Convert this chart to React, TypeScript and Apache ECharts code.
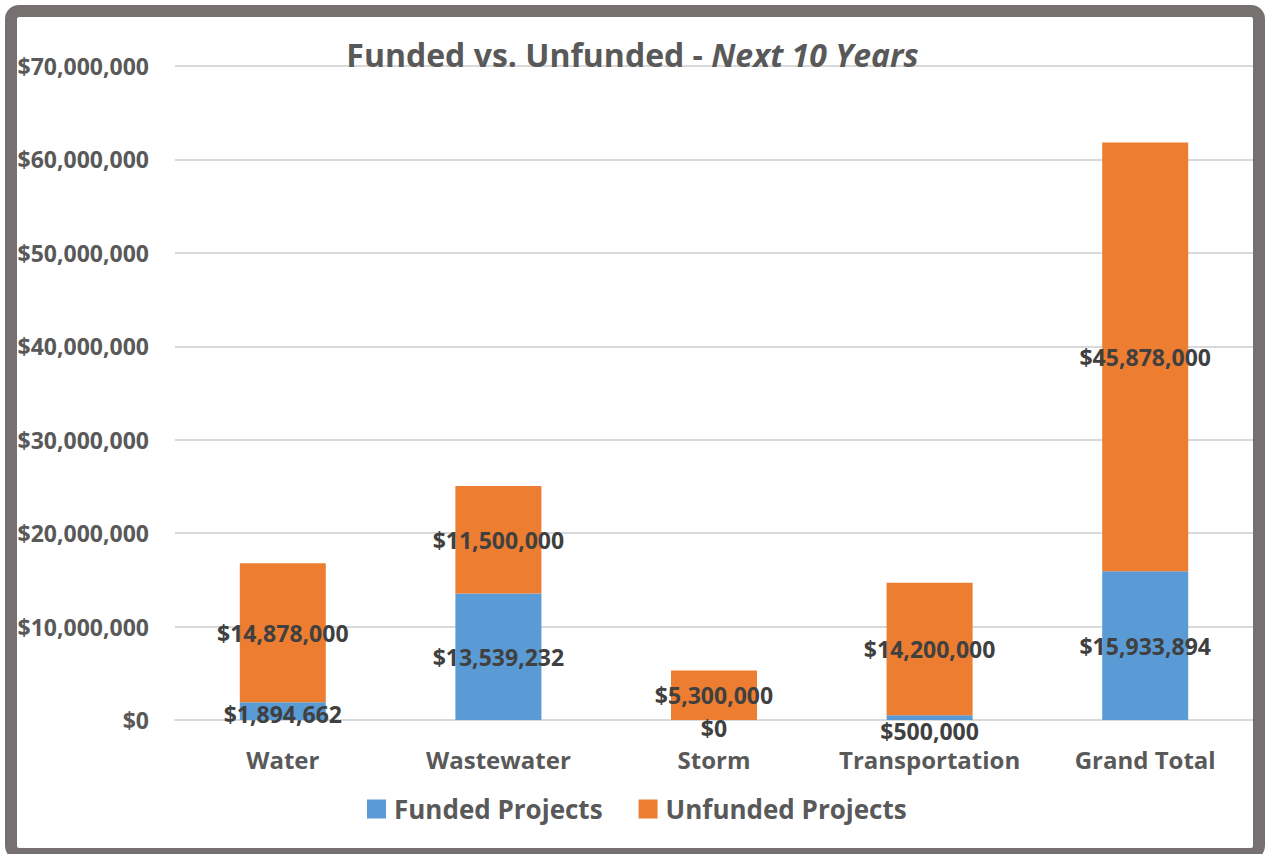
import React, { useEffect, useRef } from "react";
import * as echarts from "echarts";

const categories = ["Water", "Wastewater", "Storm", "Transportation", "Grand Total"];
const fundedValues = [1894662, 13539232, 0, 500000, 15933894];
const unfundedValues = [14878000, 11500000, 5300000, 14200000, 45878000];
const seriesNames = ["Funded Projects", "Unfunded Projects"];

const FONT = "'Open Sans', 'Noto Sans', sans-serif";
const fmt = (v: number) => "$" + Math.round(v).toLocaleString("en-US");

export default function App() {
  const ref = useRef<HTMLDivElement>(null);
  useEffect(() => {
    document.body.style.margin = "0";
    const chart = echarts.init(ref.current!, null, { renderer: "svg" });
    const labelBase = {
      show: true,
      position: "inside" as const,
      color: "#404040",
      fontFamily: FONT,
      fontWeight: "bold" as const,
      fontSize: 23,
      lineHeight: 23,
      formatter: (p: any) => fmt(p.value),
    };
    // push labels of near-zero segments below the baseline, as in the reference
    const fundedData = fundedValues.map((v, i) => {
      if (i === 2) return { value: v, label: { offset: [0, 8] } };
      if (i === 3) return { value: v, label: { offset: [0, 13] } };
      if (i === 0) return { value: v, label: { offset: [0, 3] } };
      return { value: v };
    });
    chart.setOption({
      animation: false,
      backgroundColor: "#ffffff",
      title: {
        left: "center",
        top: 33,
        text: "{a|Funded vs. Unfunded - }{b|Next 10 Years}",
        textStyle: {
          rich: {
            a: { fontFamily: FONT, fontWeight: "bold", fontSize: 32, color: "#595959" },
            b: { fontFamily: FONT, fontWeight: "bold", fontStyle: "italic", fontSize: 32, color: "#595959" },
          },
        },
      },
      legend: {
        bottom: 27,
        left: 362,
        itemWidth: 19,
        itemHeight: 19,
        itemGap: 36,
        icon: "rect",
        textStyle: { fontFamily: FONT, fontWeight: "bold", fontSize: 26, color: "#595959", padding: [0, 0, 0, 3] },
        data: seriesNames,
      },
      grid: { left: 175, right: 12, top: 66, bottom: 134, containLabel: false },
      xAxis: {
        type: "category",
        data: categories,
        axisLine: { lineStyle: { color: "#d9d9d9", width: 2 } },
        axisTick: { show: false },
        axisLabel: {
          margin: 27,
          fontFamily: FONT,
          fontWeight: "bold",
          fontSize: 24,
          lineHeight: 24,
          color: "#595959",
          interval: 0,
        },
      },
      yAxis: {
        type: "value",
        min: 0,
        max: 70000000,
        interval: 10000000,
        axisLine: { show: false },
        axisTick: { show: false },
        splitLine: { lineStyle: { color: "#d9d9d9", width: 2 } },
        axisLabel: {
          margin: 26,
          fontFamily: FONT,
          fontWeight: "bold",
          fontSize: 23,
          color: "#595959",
          formatter: (v: number) => fmt(v),
        },
      },
      series: [
        {
          name: seriesNames[0],
          type: "bar",
          stack: "total",
          barWidth: 86,
          itemStyle: { color: "#5B9BD5" },
          label: labelBase,
          data: fundedData,
        },
        {
          name: seriesNames[1],
          type: "bar",
          stack: "total",
          barWidth: 86,
          itemStyle: { color: "#ED7D31" },
          label: labelBase,
          data: unfundedValues,
        },
      ],
      graphic: [
        {
          type: "rect",
          shape: { x: 11, y: 11, width: 1248, height: 843, r: 8 },
          style: { fill: "none", stroke: "#767170", lineWidth: 12 },
          z: 100,
        },
      ],
    });
    return () => chart.dispose();
  }, []);
  return <div ref={ref} style={{ width: 1265, height: 854 }} />;
}
